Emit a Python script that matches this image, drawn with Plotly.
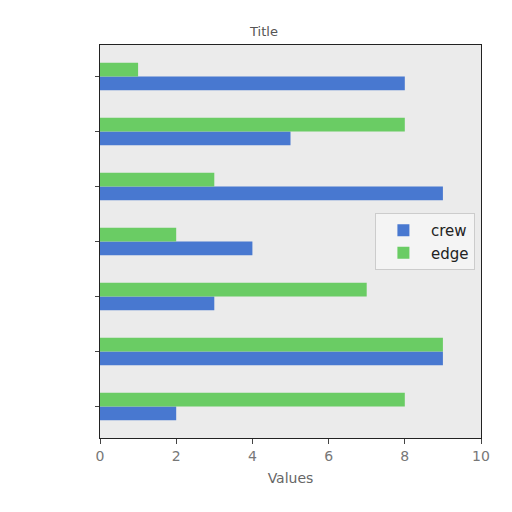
import plotly.graph_objects as go

# Categories from bottom to top (unlabelled on the chart)
categories = [0, 1, 2, 3, 4, 5, 6]
crew = [2, 9, 3, 4, 9, 5, 8]
edge = [8, 9, 7, 2, 3, 8, 1]
x_ticks = [0, 2, 4, 6, 8, 10]

bar_h = 0.25

fig = go.Figure()

fig.add_trace(go.Bar(
    y=categories, x=crew, orientation='h', name='crew',
    width=bar_h, offset=-bar_h,
    marker=dict(color='#4878d0', line=dict(width=0)),
))
fig.add_trace(go.Bar(
    y=categories, x=edge, orientation='h', name='edge',
    width=bar_h, offset=0,
    marker=dict(color='#6acc64', line=dict(width=0)),
))

# page body adds ~8px offset, so margins are shifted to compensate
fig.update_layout(
    width=512, height=512,
    margin=dict(l=92, r=39, t=37, b=82),
    barmode='overlay',
    paper_bgcolor='white',
    plot_bgcolor='#ebebeb',
    font=dict(family='DejaVu Sans', size=12, color='#444'),
    title=dict(text='Title', x=0.5, xanchor='center', y=0.955, yanchor='middle',
               font=dict(size=13, color='#555')),
    legend=dict(
        x=0.984, xanchor='right', y=0.5, yanchor='middle',
        bgcolor='rgba(245,245,245,0.9)', bordercolor='#cccccc', borderwidth=1,
        font=dict(size=15, color='#222'), itemwidth=45,
    ),
    xaxis=dict(
        range=[0, 10], tickvals=x_ticks, ticks='outside', ticklen=5,
        tickcolor='#444', showgrid=False, zeroline=False,
        showline=True, linecolor='#222', linewidth=1, mirror=True,
        title=dict(text='Values', font=dict(size=14, color='#666'), standoff=10),
        tickfont=dict(size=14, color='#777'),
    ),
    yaxis=dict(
        range=[-0.575, 6.575], tickvals=categories, ticks='outside', ticklen=4,
        tickcolor='#444', showticklabels=False, showgrid=False, zeroline=False,
        showline=True, linecolor='#222', linewidth=1, mirror=True,
    ),
)

fig.write_html("out.html")
